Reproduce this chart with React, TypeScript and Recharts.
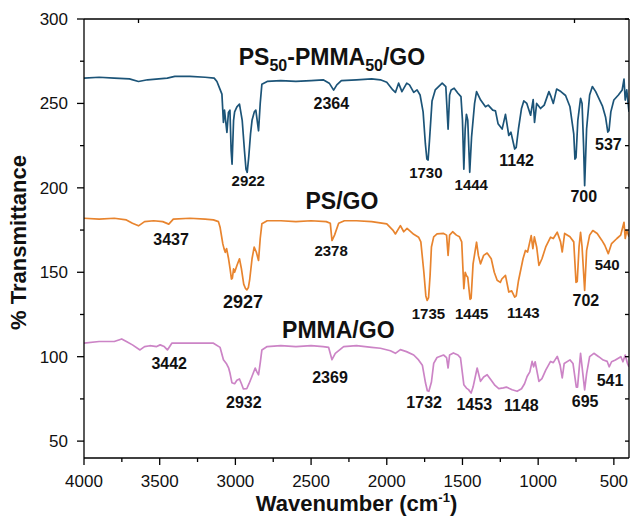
import React from 'react';
import { LineChart, Line, XAxis, YAxis, ReferenceDot } from 'recharts';

const FONT = '"Liberation Sans", Arial, sans-serif';
const BLUE = '#1c5478';
const ORANGE = '#e8842e';
const PINK = '#cc84c6';

// [wavenumber cm-1, % transmittance], offset spectra
const blendSpectrum: [number, number][] = [
  [4000, 265], [3900, 265.5], [3800, 265], [3700, 264.5], [3640, 263], [3580, 264], [3450, 265], [3400, 266],
  [3300, 266], [3200, 265.5], [3140, 265], [3122, 263], [3100, 258], [3089, 255.5], [3079, 238.7], [3072, 246],
  [3056, 232.8], [3046, 244.6], [3036, 246], [3028, 222], [3022, 214], [3012, 240], [3005, 245], [2990, 248],
  [2973, 249.6], [2955, 240], [2940, 222], [2930, 211], [2922, 209.2], [2912, 218], [2900, 232], [2890, 240],
  [2875, 245], [2865, 246], [2847, 233.8], [2836, 250], [2825, 261.4], [2790, 263], [2700, 263.5], [2600, 263],
  [2500, 263.5], [2420, 264], [2380, 262], [2351, 257.9], [2330, 261], [2300, 263.5], [2200, 264], [2100, 264.5],
  [2042, 264], [2000, 262.5], [1960, 258], [1943, 256.5], [1922, 262], [1900, 257], [1868, 262], [1850, 261],
  [1822, 256.5], [1800, 258], [1780, 255], [1760, 245], [1745, 226], [1735, 217], [1727, 216.5], [1718, 228],
  [1701, 251.5], [1680, 258], [1634, 262], [1610, 260], [1595, 234.8], [1585, 255], [1575, 258], [1555, 259],
  [1530, 256], [1510, 254], [1500, 240], [1491, 211.1], [1482, 235], [1474, 243.6], [1465, 240], [1452, 209.2],
  [1440, 230], [1420, 250], [1407, 257], [1380, 252], [1348, 248], [1330, 249], [1300, 246], [1282, 245.6],
  [1265, 238], [1238, 234.8], [1216, 243.5], [1194, 231], [1180, 233], [1155, 223], [1145, 224], [1130, 235],
  [1110, 247], [1095, 251.5], [1075, 250], [1050, 243], [1033, 252.3], [1024, 238.7], [1010, 250], [984, 247],
  [960, 249], [929, 257], [915, 254], [900, 250], [878, 258.5], [850, 257], [819, 254.7], [790, 248],
  [765, 232], [757, 217], [750, 218], [738, 240], [720, 253], [710, 250], [700, 225], [693, 201.3],
  [680, 235], [660, 255], [642, 260], [620, 257], [576, 248.6], [555, 242], [540, 233], [532, 234],
  [520, 245], [500, 252], [470, 255], [445, 258], [433, 264.4], [425, 252], [415, 258], [400, 245],
];

const psSpectrum: [number, number][] = [
  [4000, 182], [3900, 181.5], [3800, 182], [3720, 181], [3680, 179], [3640, 177.5], [3600, 180], [3540, 180.5],
  [3480, 180], [3440, 178.5], [3410, 181.5], [3300, 182], [3200, 181.5], [3145, 181], [3112, 180], [3101, 176.6],
  [3083, 166.8], [3075, 164], [3067, 161.8], [3058, 164], [3045, 158], [3035, 152], [3026, 146], [3020, 146.5],
  [3012, 152], [3005, 150], [2990, 154], [2973, 158], [2960, 152], [2945, 143], [2934, 140.5], [2924, 139.6],
  [2914, 141], [2905, 146], [2890, 158], [2876, 164.9], [2862, 162], [2847, 157], [2836, 170], [2825, 178.7],
  [2790, 180.5], [2700, 180.5], [2600, 180], [2500, 180.5], [2400, 180], [2373, 179], [2362, 168.8], [2345, 172],
  [2318, 179], [2280, 180.5], [2200, 180.5], [2100, 180], [2000, 178.7], [1960, 175], [1943, 172.7], [1910, 177.6],
  [1888, 174], [1866, 176], [1822, 172.5], [1790, 170.8], [1775, 168], [1755, 150], [1742, 136], [1733, 133.3],
  [1724, 135], [1714, 148], [1705, 165], [1690, 171], [1668, 172.7], [1625, 173], [1605, 172], [1595, 160],
  [1585, 172], [1565, 174], [1540, 172], [1520, 171], [1505, 168], [1491, 140.3], [1482, 150], [1474, 148],
  [1465, 147], [1450, 134], [1443, 134.5], [1430, 155], [1407, 167.8], [1395, 160], [1381, 155], [1360, 160],
  [1337, 161.4], [1310, 158], [1290, 150], [1271, 145.3], [1250, 144], [1240, 146], [1216, 148.2], [1194, 138.3],
  [1175, 139], [1155, 135.3], [1145, 136], [1130, 145], [1100, 158], [1084, 162.9], [1070, 162], [1046, 171.7],
  [1035, 164], [1025, 171], [1010, 165], [995, 154], [975, 158], [950, 165], [918, 170.8], [900, 170],
  [874, 173.7], [852, 168], [841, 162], [825, 173], [790, 171], [765, 168], [750, 144], [742, 144.5],
  [730, 165], [720, 173.7], [710, 165], [693, 139.2], [680, 163], [660, 172], [639, 174.7], [610, 173],
  [580, 169], [560, 166], [537, 161], [515, 167], [480, 170], [455, 172], [433, 179.6], [425, 170],
  [415, 175], [400, 171],
];

const pmmaSpectrum: [number, number][] = [
  [4000, 108], [3900, 109], [3800, 109], [3751, 110.5], [3720, 109], [3680, 107], [3630, 104], [3600, 106],
  [3565, 106.5], [3520, 106], [3497, 107], [3470, 106], [3449, 104], [3420, 108], [3300, 108], [3200, 108],
  [3145, 108], [3101, 105.5], [3079, 98.2], [3060, 96], [3045, 93.4], [3035, 90], [3023, 84.6], [3005, 84],
  [2990, 86], [2973, 86.8], [2960, 84], [2947, 80.9], [2925, 81], [2910, 84], [2892, 88], [2869, 93.3],
  [2858, 91], [2847, 89.3], [2835, 97], [2825, 104], [2790, 106], [2700, 106.5], [2600, 106], [2500, 106.5],
  [2420, 106], [2384, 105.5], [2362, 98.2], [2340, 102], [2285, 106], [2200, 106.5], [2100, 105.5], [2042, 105],
  [1976, 103.5], [1943, 102], [1910, 104.2], [1870, 103], [1822, 101], [1790, 98.1], [1765, 95], [1744, 84.4],
  [1732, 79.8], [1722, 79.5], [1705, 85], [1690, 96], [1668, 99.5], [1625, 101], [1605, 99.5], [1595, 93.3],
  [1585, 101], [1560, 102.2], [1530, 101], [1513, 99.3], [1491, 83.4], [1474, 81.4], [1460, 80.5], [1443, 78.5],
  [1430, 82], [1403, 93.3], [1381, 85.4], [1360, 88], [1337, 89.3], [1310, 86], [1285, 83], [1260, 81.1],
  [1230, 81.5], [1210, 82], [1172, 80.4], [1139, 79.5], [1110, 81], [1090, 84], [1073, 88.3], [1055, 91],
  [1040, 97.2], [1030, 94], [1020, 97], [995, 85.4], [975, 87], [950, 92], [918, 97.2], [900, 96.5],
  [874, 100.2], [855, 95], [841, 87.4], [828, 96], [790, 98.1], [770, 96], [748, 82], [740, 82],
  [730, 92], [720, 102], [705, 90], [693, 80.4], [680, 90], [660, 100], [632, 102], [600, 100],
  [570, 98], [544, 97.2], [531, 94], [515, 97], [490, 98], [454, 100], [440, 97], [425, 101],
  [410, 96], [400, 94],
];

// peak labels: [text, wavenumber, transmittance] (text centre)
const blendPeaks: [string, number, number][] = [
  ['2922', 2915, 204.1], ['2364', 2366, 250], ['1730', 1742, 208.9], ['1444', 1442, 201.8],
  ['1142', 1142, 216.6], ['700', 699, 195.3], ['537', 536, 225.8],
];
const psPeaks: [string, number, number][] = [
  ['3437', 3425, 169.7], ['2927', 2950, 132.5], ['2378', 2368, 162.7], ['1735', 1725, 125.4],
  ['1445', 1439, 125.4], ['1143', 1098, 126.2], ['702', 685, 133.2], ['540', 544, 154.5],
];
const pmmaPeaks: [string, number, number][] = [
  ['3442', 3437, 96.3], ['2932', 2944, 72.8], ['2369', 2375, 87.6], ['1732', 1753, 72.8],
  ['1453', 1422, 72], ['1148', 1111, 71.3], ['695', 690, 73.8], ['541', 525, 85.8],
];
const titlePos = { blend: [2362, 277.5], ps: [2296, 192.5], pmma: [2320, 116.2] };

const xTicks = [4000, 3750, 3500, 3250, 3000, 2750, 2500, 2250, 2000, 1750, 1500, 1250, 1000, 750, 500];
const yTicks = [50, 75, 100, 125, 150, 175, 200, 225, 250, 275, 300];
const topTicks = [3640, 760];

const big = new Set(['2364', '1142', '700', '537', '3437', '2927', '702', '3442', '2369', '695', '1732', '2932']);
const labelSize = (t: string, series: string) => {
  if (t === '2927') return 18;
  if (series === 'pmma' || big.has(t)) return 16;
  return 15;
};

const toRows = (s: [number, number][]) => s.map(([wn, t]) => ({ wn, t }));

const BottomTick = (p: any) => {
  const v = p.payload.value;
  const major = v % 500 === 0;
  return (
    <g>
      <line x1={p.x} x2={p.x} y1={p.y} y2={p.y + (major ? 7 : 4)} stroke="#000" strokeWidth={1.3} />
      {major && (
        <text x={p.x} y={p.y + 29} textAnchor="middle" fontSize={17} fontFamily={FONT} fill="#111">{v}</text>
      )}
    </g>
  );
};

const TopTick = (p: any) => (
  <line x1={p.x} x2={p.x} y1={p.y} y2={p.y + 4} stroke="#000" strokeWidth={1.3} />
);

const LeftTick = (p: any) => {
  const v = p.payload.value;
  const major = v % 50 === 0;
  return (
    <g>
      <line x1={p.x} x2={p.x - (major ? 7 : 4)} y1={p.y} y2={p.y} stroke="#000" strokeWidth={1.3} />
      {major && (
        <text x={p.x - 16} y={p.y + 6} textAnchor="end" fontSize={17} fontFamily={FONT} fill="#111">{v}</text>
      )}
    </g>
  );
};

const RightTick = (p: any) => (
  <line x1={p.x} x2={p.x - 4} y1={p.y} y2={p.y} stroke="#000" strokeWidth={1.3} />
);

const peakShape = (text: string, size: number) => (p: any) => (
  <text x={p.cx} y={p.cy + size * 0.36} textAnchor="middle" fontSize={size} fontWeight="bold"
    fontFamily={FONT} fill="#111">{text}</text>
);

const BlendTitle = (p: any) => (
  <text x={p.cx} y={p.cy + 8} textAnchor="middle" fontSize={23} fontWeight="bold" fontFamily={FONT} fill="#111">
    PS<tspan fontSize={16} dy={6}>50</tspan>
    <tspan dy={-6}>-PMMA</tspan>
    <tspan fontSize={16} dy={6}>50</tspan>
    <tspan dy={-6}>/GO</tspan>
  </text>
);

const XTitle = (p: any) => {
  const vb = p.viewBox;
  return (
    <text x={vb.x + vb.width / 2} y={vb.y + 53} textAnchor="middle" fontSize={22} fontWeight="bold"
      fontFamily={FONT} fill="#111">
      Wavenumber (cm<tspan fontSize={13} dy={-9}>-1</tspan><tspan dy={9}>)</tspan>
    </text>
  );
};

const YTitle = (p: any) => {
  const vb = p.viewBox;
  const cy = vb.y + vb.height / 2 + 4;
  return (
    <text x={26} y={cy} transform={`rotate(-90 26 ${cy})`} textAnchor="middle" fontSize={22}
      fontWeight="bold" fontFamily={FONT} fill="#111">
      % Transmittance
    </text>
  );
};

const series = [
  { key: 'blend', data: toRows(blendSpectrum), color: BLUE, peaks: blendPeaks },
  { key: 'ps', data: toRows(psSpectrum), color: ORANGE, peaks: psPeaks },
  { key: 'pmma', data: toRows(pmmaSpectrum), color: PINK, peaks: pmmaPeaks },
];

export default function App() {
  return (
    <div style={{ position: 'absolute', left: 0, top: 0, width: 631, height: 517, background: '#fff' }}>
      <LineChart width={631} height={517} margin={{ top: 18, right: 1, bottom: 0, left: 0 }}>
        <XAxis xAxisId="b" dataKey="wn" type="number" domain={[400, 4000]} reversed allowDataOverflow
          ticks={xTicks} interval={0} tick={BottomTick} tickLine={false} tickSize={0} tickMargin={0}
          height={59} axisLine={{ stroke: '#000', strokeWidth: 1.3 }} label={XTitle} />
        <XAxis xAxisId="t" orientation="top" dataKey="wn" type="number" domain={[400, 4000]} reversed
          allowDataOverflow ticks={topTicks} interval={0} tick={TopTick} tickLine={false} tickSize={0}
          tickMargin={0} height={1} axisLine={{ stroke: '#000', strokeWidth: 1.3 }} />
        <YAxis yAxisId="l" type="number" domain={[40, 300]} allowDataOverflow ticks={yTicks} interval={0}
          tick={LeftTick} tickLine={false} tickSize={0} tickMargin={0} width={84}
          axisLine={{ stroke: '#000', strokeWidth: 1.3 }} label={YTitle} />
        <YAxis yAxisId="r" orientation="right" type="number" domain={[40, 300]} allowDataOverflow ticks={yTicks}
          interval={0} tick={RightTick} tickLine={false} tickSize={0} tickMargin={0} width={1}
          axisLine={{ stroke: '#000', strokeWidth: 1.3 }} />
        {series.map(s => (
          <Line key={s.key} xAxisId="b" yAxisId="l" data={s.data} dataKey="t" type="linear" stroke={s.color}
            strokeWidth={1.7} dot={false} isAnimationActive={false} strokeLinejoin="round" />
        ))}
        {series.map(s => s.peaks.map(([text, wn, t]) => (
          <ReferenceDot key={s.key + text} xAxisId="b" yAxisId="l" x={wn} y={t} r={0}
            shape={peakShape(text, labelSize(text, s.key))} />
        )))}
        <ReferenceDot xAxisId="b" yAxisId="l" x={titlePos.blend[0]} y={titlePos.blend[1]} r={0} shape={BlendTitle} />
        <ReferenceDot xAxisId="b" yAxisId="l" x={titlePos.ps[0]} y={titlePos.ps[1]} r={0} shape={peakShape('PS/GO', 23)} />
        <ReferenceDot xAxisId="b" yAxisId="l" x={titlePos.pmma[0]} y={titlePos.pmma[1]} r={0} shape={peakShape('PMMA/GO', 23)} />
      </LineChart>
    </div>
  );
}
